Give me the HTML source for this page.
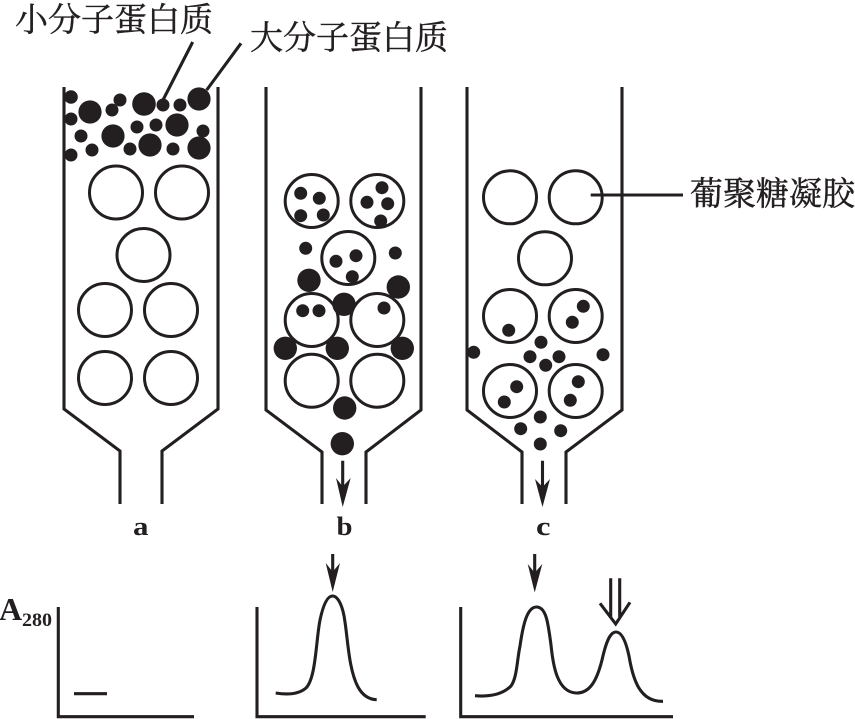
<!DOCTYPE html>
<html><head><meta charset="utf-8">
<style>
html,body{margin:0;padding:0;background:#fff;width:855px;height:719px;overflow:hidden}
svg{display:block}
.l{fill:none;stroke:#231f20;stroke-width:3.1}
.o{fill:none;stroke:#231f20;stroke-width:3}
.t{font-family:"Liberation Serif","Noto Serif CJK SC",serif;font-size:33px;fill:#231f20;font-weight:400;stroke:#231f20;stroke-width:.45}
.b{font-family:"Liberation Serif",serif;font-weight:bold;fill:#231f20}
</style></head><body>
<svg width="855" height="719" viewBox="0 0 855 719" xmlns="http://www.w3.org/2000/svg">
<text class="t" x="15" y="31">小分子蛋白质</text>
<text class="t" x="250" y="49">大分子蛋白质</text>
<text class="t" x="690" y="205">葡聚糖凝胶</text>
<path class="l" d="M192.7 42L163 100M241 43.3L206.7 90M590.7 195H683"/>

<path class="l" d="M64 87V409L120 451V504M218 87V409L162 451V504"/>
<path class="l" d="M266 87V410L322 452V504M421 87V410L366 452V504"/>
<path class="l" d="M467 87V410L522 452V504M622 87V410L566 452V504"/>

<g class="o">
<circle cx="116" cy="192.5" r="26.5"/><circle cx="182" cy="192.5" r="26.5"/><circle cx="143.5" cy="255" r="26.5"/>
<circle cx="105" cy="310" r="26.5"/><circle cx="171" cy="310" r="26.5"/><circle cx="105" cy="378" r="26.5"/><circle cx="171" cy="378" r="26.5"/>
<circle cx="311.7" cy="201" r="26.5"/><circle cx="377.3" cy="201" r="26.5"/><circle cx="348.3" cy="258" r="26.5"/>
<circle cx="311.7" cy="320" r="26.5"/><circle cx="377.3" cy="320" r="26.5"/><circle cx="311.7" cy="380.7" r="26.5"/><circle cx="377.3" cy="380.7" r="26.5"/>
<circle cx="510" cy="197.3" r="26.5"/><circle cx="575.7" cy="197.3" r="26.5"/><circle cx="545" cy="258.3" r="26.5"/>
<circle cx="510" cy="316" r="26.5"/><circle cx="575.7" cy="316" r="26.5"/><circle cx="510" cy="391" r="26.5"/><circle cx="575.7" cy="391" r="26.5"/>
</g>

<g fill="#231f20">
<circle cx="71" cy="97" r="6.8"/><circle cx="90" cy="112" r="11.6"/><circle cx="120" cy="100" r="6.5"/><circle cx="112" cy="110" r="6.5"/>
<circle cx="144" cy="104" r="11.8"/><circle cx="163" cy="105" r="6.5"/><circle cx="180" cy="105" r="6.5"/><circle cx="199" cy="99" r="11.6"/>
<circle cx="71" cy="119" r="6.5"/><circle cx="81" cy="136" r="6.5"/><circle cx="113" cy="136" r="11.6"/><circle cx="137" cy="127" r="6.5"/>
<circle cx="156" cy="125" r="6.5"/><circle cx="177" cy="125" r="11.6"/><circle cx="203" cy="131" r="6.5"/><circle cx="199" cy="148" r="11.6"/>
<circle cx="173" cy="149" r="6.5"/><circle cx="150" cy="145" r="11.6"/><circle cx="130" cy="149" r="6.5"/><circle cx="92" cy="150" r="6.5"/><circle cx="71" cy="155" r="6.5"/>

<circle cx="300.7" cy="193.3" r="6.5"/><circle cx="319.3" cy="198.3" r="6.5"/><circle cx="300.7" cy="215.7" r="6.5"/><circle cx="323.3" cy="215" r="6.5"/>
<circle cx="382" cy="187.7" r="6.5"/><circle cx="367" cy="202.3" r="6.5"/><circle cx="387.7" cy="203.7" r="6.5"/><circle cx="380.7" cy="221" r="6.5"/>
<circle cx="305.7" cy="248.3" r="6.5"/><circle cx="395.3" cy="253" r="6.5"/><circle cx="336" cy="261.3" r="6.5"/><circle cx="356" cy="255.7" r="6.5"/><circle cx="352.3" cy="276.7" r="6.5"/>
<circle cx="302.7" cy="310.7" r="6.5"/><circle cx="319" cy="310.7" r="6.5"/><circle cx="384" cy="308" r="6.5"/>
<circle cx="309" cy="280.3" r="11.7"/><circle cx="398.3" cy="287" r="11.7"/><circle cx="344" cy="304.3" r="11.7"/>
<circle cx="285.3" cy="348.3" r="11.7"/><circle cx="337.3" cy="348.3" r="11.7"/><circle cx="402.3" cy="348.3" r="11.7"/>
<circle cx="344.7" cy="408" r="11.7"/><circle cx="342.3" cy="443.7" r="11.7"/>

<circle cx="508.7" cy="330.3" r="6.5"/><circle cx="583.3" cy="306.3" r="6.5"/><circle cx="572.3" cy="322.3" r="6.5"/><circle cx="541" cy="342.3" r="6.5"/>
<circle cx="473.7" cy="352.3" r="6.5"/><circle cx="603" cy="354.7" r="6.5"/><circle cx="530" cy="356.7" r="6.5"/><circle cx="559" cy="356.7" r="6.5"/><circle cx="545.7" cy="365.3" r="6.5"/>
<circle cx="516.7" cy="386.7" r="6.5"/><circle cx="504.3" cy="402" r="6.5"/><circle cx="578.3" cy="381.7" r="6.5"/><circle cx="570.3" cy="400.3" r="6.5"/>
<circle cx="540.3" cy="417" r="6.5"/><circle cx="520.7" cy="428.7" r="6.5"/><circle cx="560.7" cy="430.7" r="6.5"/><circle cx="540.3" cy="444" r="6.5"/>

<path d="M336 478L342.7 486.5L350.7 478L342.7 507Z"/>
<path d="M535 479L542.5 487L550 479L542.5 507Z"/>
<path d="M325.7 563L332.7 571.7L340 563L332.7 592Z"/>
<path d="M527.7 564L534.7 572.7L542.3 564L534.7 592.5Z"/>
</g>
<path class="l" d="M342.7 460.7V490M542.5 460.7V490M332.7 554V575M534.7 554V575"/>

<text class="b" x="133" y="535" font-size="26" textLength="15.5" lengthAdjust="spacingAndGlyphs">a</text>
<text class="b" x="336.5" y="535" font-size="26" textLength="16" lengthAdjust="spacingAndGlyphs">b</text>
<text class="b" x="536" y="535" font-size="26" textLength="14.5" lengthAdjust="spacingAndGlyphs">c</text>

<text class="b" x="-1" y="620" font-size="32">A</text>
<text class="b" x="22" y="626" font-size="19" textLength="30" lengthAdjust="spacingAndGlyphs">280</text>

<path class="l" d="M58.3 607V716.7H194M74 693.7H107"/>
<path class="l" d="M257 607V716.7H425.7"/>
<path class="l" d="M460.7 607V716.7H673"/>
<path class="l" d="M275.7 693C285 694.5 298 695 306 688C316 678 316 640 320 620C323 606 327 596 332.5 596C338 596 343 606 345 622C348 642 349 670 358 687C363 696 370 699.5 376.7 699.7"/>
<path class="l" d="M475 695.7C490 697 503 694 511 686C517 678 517 660 520 646C523 625 527 607 536.5 607C546 607 548 622 551 645C553 665 557 692 576 693C590 693.5 597 680 602 660C606 642 610 632 616 632C622 632 626 642 629 656C633 680 640 702 663 701.3"/>
<path class="l" d="M610.7 578.3V617M619.7 578.3V617M600 603.3L615.7 624L630 602.3"/>
</svg>
</body></html>
